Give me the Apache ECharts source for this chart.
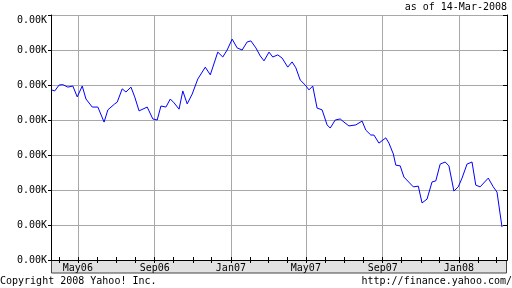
<!DOCTYPE html>
<html><head><meta charset="utf-8">
<script src="https://cdn.jsdelivr.net/npm/echarts@6/dist/echarts.min.js"></script>
<style>html,body{margin:0;padding:0;background:#fff}#c{width:512px;height:288px}</style>
</head><body><div id="c"></div>
<script>
// Day categories start (one category per day)
const startDate = [2006, 2, 19];
const dayCount = 731;
// Position of each reading, in days since startDate
const dayIndex = [1,6,13,19,27,35,42,50,56,66,75,78,85,91,102,106,114,120,128,134,141,154,163,170,176,184,191,197,205,211,218,226,235,247,255,267,275,282,290,298,306,314,320,328,335,341,349,355,363,370,379,386,392,399,407,413,419,426,434,442,447,455,463,469,477,488,498,504,512,517,525,536,541,548,552,559,565,580,588,594,602,610,616,623,631,637,645,652,658,666,674,680,687,700,708,714,722];
const values = [4.86,4.83,5.0,5.01,4.94,4.97,4.66,4.97,4.6,4.37,4.37,4.34,3.94,4.29,4.46,4.51,4.89,4.8,4.94,4.66,4.26,4.37,4.03,4.0,4.4,4.37,4.6,4.49,4.31,4.83,4.46,4.74,5.17,5.51,5.29,5.94,5.8,6.0,6.31,6.06,6.0,6.23,6.26,6.06,5.83,5.69,5.94,5.8,5.86,5.77,5.51,5.66,5.49,5.14,5.0,4.86,4.97,4.34,4.29,3.86,3.77,4.0,4.03,3.94,3.83,3.86,3.97,3.71,3.57,3.57,3.34,3.49,3.34,3.03,2.71,2.69,2.37,2.09,2.11,1.63,1.74,2.23,2.26,2.74,2.8,2.69,1.97,2.09,2.34,2.74,2.8,2.14,2.09,2.34,2.09,1.94,0.94];
const yTickLabels = ['0.00K','0.00K','0.00K','0.00K','0.00K','0.00K','0.00K','0.00K'];
const monthNames = ['Jan','Feb','Mar','Apr','May','Jun','Jul','Aug','Sep','Oct','Nov','Dec'];
const majorMonths = ['01','05','09'];

const categories = [];
for (let i = 0; i < dayCount; i++) {
  const d = new Date(Date.UTC(startDate[0], startDate[1], startDate[2] + i));
  categories.push(d.toISOString().slice(0, 10));
}
const seriesData = dayIndex.map((d, i) => [d, values[i]]);
const isMonthStart = (v) => v.slice(8, 10) === '01';
const isMajor = (v) => isMonthStart(v) && majorMonths.indexOf(v.slice(5, 7)) >= 0;
const FONT = 'DejaVu Sans Mono';

const chart = echarts.init(document.getElementById('c'), null, {renderer: 'canvas'});
chart.setOption({
  animation: false,
  backgroundColor: '#fff',
  grid: {left: 51, right: 5, top: 15, bottom: 28, containLabel: false},
  graphic: [
    {type: 'rect', z: -5, shape: {x: 51.5, y: 260.5, width: 455, height: 12.5},
     style: {fill: '#e2e2e2', stroke: '#444', lineWidth: 1}},
    {type: 'text', x: 507, y: 7, style: {text: 'as of 14-Mar-2008', font: '10px "' + FONT + '"', fill: '#000', align: 'right', verticalAlign: 'middle'}},
    {type: 'text', x: 0, y: 281, style: {text: 'Copyright 2008 Yahoo! Inc.', font: '10px "' + FONT + '"', fill: '#000', align: 'left', verticalAlign: 'middle'}},
    {type: 'text', x: 512, y: 281, style: {text: 'http://finance.yahoo.com/', font: '10px "' + FONT + '"', fill: '#000', align: 'right', verticalAlign: 'middle'}}
  ],
  xAxis: [
    {type: 'category', data: categories, boundaryGap: false, position: 'bottom',
     axisLine: {show: true, lineStyle: {color: '#000', width: 1}},
     axisTick: {show: true, inside: true, length: 3, interval: (i, v) => isMonthStart(v), lineStyle: {color: '#000'}},
     axisLabel: {show: true, interval: (i, v) => isMajor(v), margin: 3, fontFamily: FONT, fontSize: 10, color: '#000',
       formatter: (v) => monthNames[parseInt(v.slice(5, 7), 10) - 1] + v.slice(2, 4)},
     splitLine: {show: true, interval: (i, v) => isMajor(v), lineStyle: {color: '#a8a8a8', width: 1}}},
    {type: 'category', data: categories, boundaryGap: false, position: 'top',
     axisLine: {show: true, lineStyle: {color: '#000', width: 1}},
     axisTick: {show: true, inside: true, length: 3, interval: (i, v) => isMonthStart(v), lineStyle: {color: '#000'}},
     axisLabel: {show: false}, splitLine: {show: false}}
  ],
  yAxis: [
    {type: 'value', min: 0, max: 7, interval: 1, position: 'left',
     axisLine: {show: true, lineStyle: {color: '#000', width: 1}},
     axisTick: {show: true, inside: false, length: 3, lineStyle: {color: '#000'}},
     axisLabel: {margin: 4, fontFamily: FONT, fontSize: 10, color: '#000',
       formatter: (v, i) => v === 7 ? '{top|' + yTickLabels[i] + '}' : yTickLabels[i],
       rich: {top: {fontFamily: FONT, fontSize: 10, color: '#000', padding: [10, 0, 0, 0]}}},
     splitLine: {show: true, lineStyle: {color: '#a8a8a8', width: 1}}},
    {type: 'value', min: 0, max: 7, interval: 1, position: 'right',
     axisLine: {show: true, lineStyle: {color: '#000', width: 1}},
     axisTick: {show: true, inside: true, length: 4, lineStyle: {color: '#000'}},
     axisLabel: {show: false}, splitLine: {show: false}}
  ],
  series: [{
    type: 'line', xAxisIndex: 0, yAxisIndex: 0, data: seriesData,
    showSymbol: false, symbol: 'none', smooth: false,
    lineStyle: {color: '#0000ff', width: 1}
  }]
});
</script></body></html>
